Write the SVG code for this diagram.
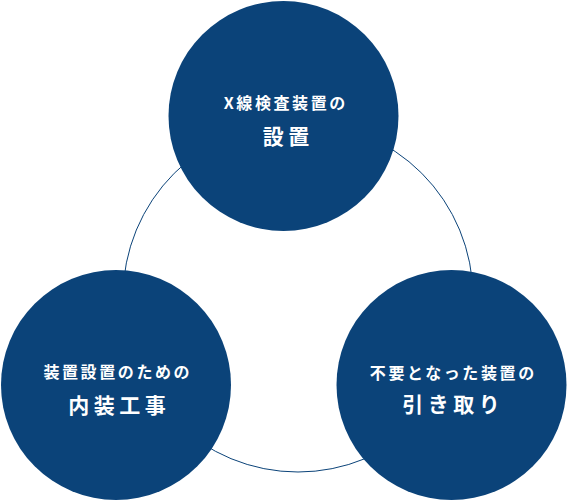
<svg xmlns="http://www.w3.org/2000/svg" width="567" height="500" viewBox="0 0 567 500">
<style>
.node{fill:#0b4379}
.ring{fill:none;stroke:#0b4379;stroke-width:1}
text{fill:#ffffff;font-family:"Noto Sans CJK JP","Noto Sans",sans-serif;font-weight:bold;text-anchor:middle}
.l1{font-size:16px;letter-spacing:2.6px}
.l2{font-size:21px;letter-spacing:4.5px}
</style>
<rect width="567" height="500" fill="#ffffff"/>
<g id="connectors">
<circle class="ring" cx="298" cy="297" r="175"/>
</g>
<g id="node-top">
<circle class="node" cx="283.5" cy="116" r="115"/>
<text class="l1" x="285.8" y="109">X線検査装置の</text>
<text class="l2" x="288.2" y="144">設置</text>
</g>
<g id="node-left">
<circle class="node" cx="116" cy="385" r="115"/>
<text class="l1" x="117.8" y="378">装置設置のための</text>
<text class="l2" x="119.3" y="413">内装工事</text>
</g>
<g id="node-right">
<circle class="node" cx="451.5" cy="385" r="115"/>
<text class="l1" x="453.3" y="379">不要となった装置の</text>
<text class="l2" x="453.3" y="412">引き取り</text>
</g>
</svg>
